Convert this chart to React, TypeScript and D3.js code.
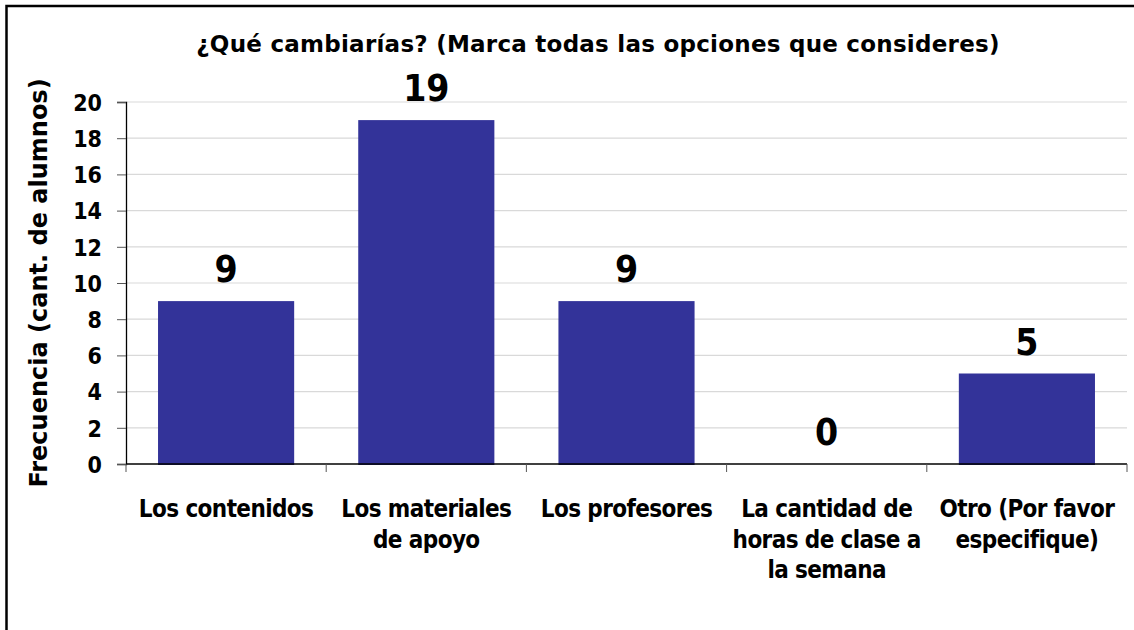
import React, { useRef, useEffect } from "react";
import * as d3 from "d3";

// chart data
const categories = [
  "Los contenidos",
  "Los materiales de apoyo",
  "Los profesores",
  "La cantidad de horas de clase a la semana",
  "Otro (Por favor especifique)",
];
const categoryLines = [
  ["Los contenidos"],
  ["Los materiales", "de apoyo"],
  ["Los profesores"],
  ["La cantidad de", "horas de clase a", "la semana"],
  ["Otro (Por favor", "especifique)"],
];
const values = [9, 19, 9, 0, 5];
const yTicks = [0, 2, 4, 6, 8, 10, 12, 14, 16, 18, 20];

const title = "¿Qué cambiarías? (Marca todas las opciones que consideres)";
const yTitle = "Frecuencia (cant. de alumnos)";

const W = 1134;
const H = 630;
const FONT = "'DejaVu Sans Condensed', 'DejaVu Sans', sans-serif";
const WIDE = "'DejaVu Sans', sans-serif";
const BAR = "#333399";

const App = () => {
  const svgRef = useRef<SVGSVGElement>(null);

  useEffect(() => {
    const svg = d3.select(svgRef.current);
    svg.selectAll("*").remove();

    const left = 126, right = 1127, top = 102, bottom = 464;

    const x = d3.scaleBand<string>()
      .domain(categories)
      .range([left, right])
      .paddingInner(0.32)
      .paddingOuter(0.16);
    const y = d3.scaleLinear().domain([0, 20]).range([bottom, top]);

    // outer frame (runs off right and bottom edge)
    svg.append("rect")
      .attr("x", 6.5).attr("y", 6)
      .attr("width", W + 20).attr("height", H + 20)
      .attr("fill", "white")
      .attr("stroke", "black")
      .attr("stroke-width", 2.5);

    // title
    svg.append("text")
      .attr("x", 598).attr("y", 52)
      .attr("text-anchor", "middle")
      .attr("font-family", WIDE)
      .attr("font-weight", "bold")
      .attr("font-size", 23)
      .attr("letter-spacing", 0.25)
      .text(title);

    // gridlines
    svg.append("g")
      .selectAll("line")
      .data(yTicks.filter(d => d > 0))
      .join("line")
      .attr("x1", left).attr("x2", right)
      .attr("y1", d => y(d)).attr("y2", d => y(d))
      .attr("stroke", "#d9d9d9")
      .attr("stroke-width", 1.2);

    // bars
    svg.append("g")
      .selectAll("rect")
      .data(values)
      .join("rect")
      .attr("x", (d, i) => x(categories[i])!)
      .attr("width", x.bandwidth())
      .attr("y", d => y(d))
      .attr("height", d => (d > 0 ? y(0) - y(d) + 1 : 0))
      .attr("fill", BAR);

    // y axis
    const yAxis = svg.append("g")
      .attr("transform", `translate(${left},0)`)
      .call(d3.axisLeft(y).tickValues(yTicks).tickSize(9).tickPadding(15).tickFormat(d3.format("d")));
    yAxis.select(".domain").attr("stroke", "black").attr("stroke-width", 1.3);
    yAxis.selectAll(".tick line").attr("stroke", "#555");
    yAxis.selectAll(".tick text")
      .attr("font-family", FONT)
      .attr("font-weight", "bold")
      .attr("font-size", 23)
      .attr("fill", "black")
      .attr("dy", "0.36em");

    // x axis line + boundary ticks
    svg.append("line")
      .attr("x1", left).attr("x2", right)
      .attr("y1", bottom).attr("y2", bottom)
      .attr("stroke", "black").attr("stroke-width", 1.3);
    const bounds = categories.map(c => x(c)! - x.step() * x.paddingOuter()).concat([right]);
    svg.append("g")
      .selectAll("line")
      .data(bounds)
      .join("line")
      .attr("x1", d => d).attr("x2", d => d)
      .attr("y1", bottom).attr("y2", bottom + 8)
      .attr("stroke", "#555");

    // category labels
    const lab = svg.append("g")
      .selectAll("text")
      .data(categoryLines)
      .join("text")
      .attr("text-anchor", "middle")
      .attr("font-family", FONT)
      .attr("font-weight", "bold")
      .attr("font-size", 24)
      .attr("letter-spacing", -0.6);
    lab.selectAll("tspan")
      .data((d, i) => d.map(t => ({ t, i })))
      .join("tspan")
      .attr("x", d => x(categories[d.i])! + x.bandwidth() / 2)
      .attr("y", (d, j) => 517 + j * 30.5)
      .text(d => d.t);

    // value labels
    svg.append("g")
      .selectAll("text")
      .data(values)
      .join("text")
      .attr("x", (d, i) => x(categories[i])! + x.bandwidth() / 2)
      .attr("y", d => y(d) - 19)
      .attr("text-anchor", "middle")
      .attr("font-family", FONT)
      .attr("font-weight", "bold")
      .attr("font-size", 37)
      .text(d => d);

    // y title
    svg.append("text")
      .attr("transform", `translate(39,${(top + bottom) / 2}) rotate(-90)`)
      .attr("text-anchor", "middle")
      .attr("dominant-baseline", "central")
      .attr("font-family", WIDE)
      .attr("font-weight", "bold")
      .attr("font-size", 24)
      .text(yTitle);
  }, []);

  return (
    <svg
      ref={svgRef}
      width={W}
      height={H}
      style={{ position: "absolute", left: 0, top: 0, background: "white" }}
    />
  );
};

export default App;
